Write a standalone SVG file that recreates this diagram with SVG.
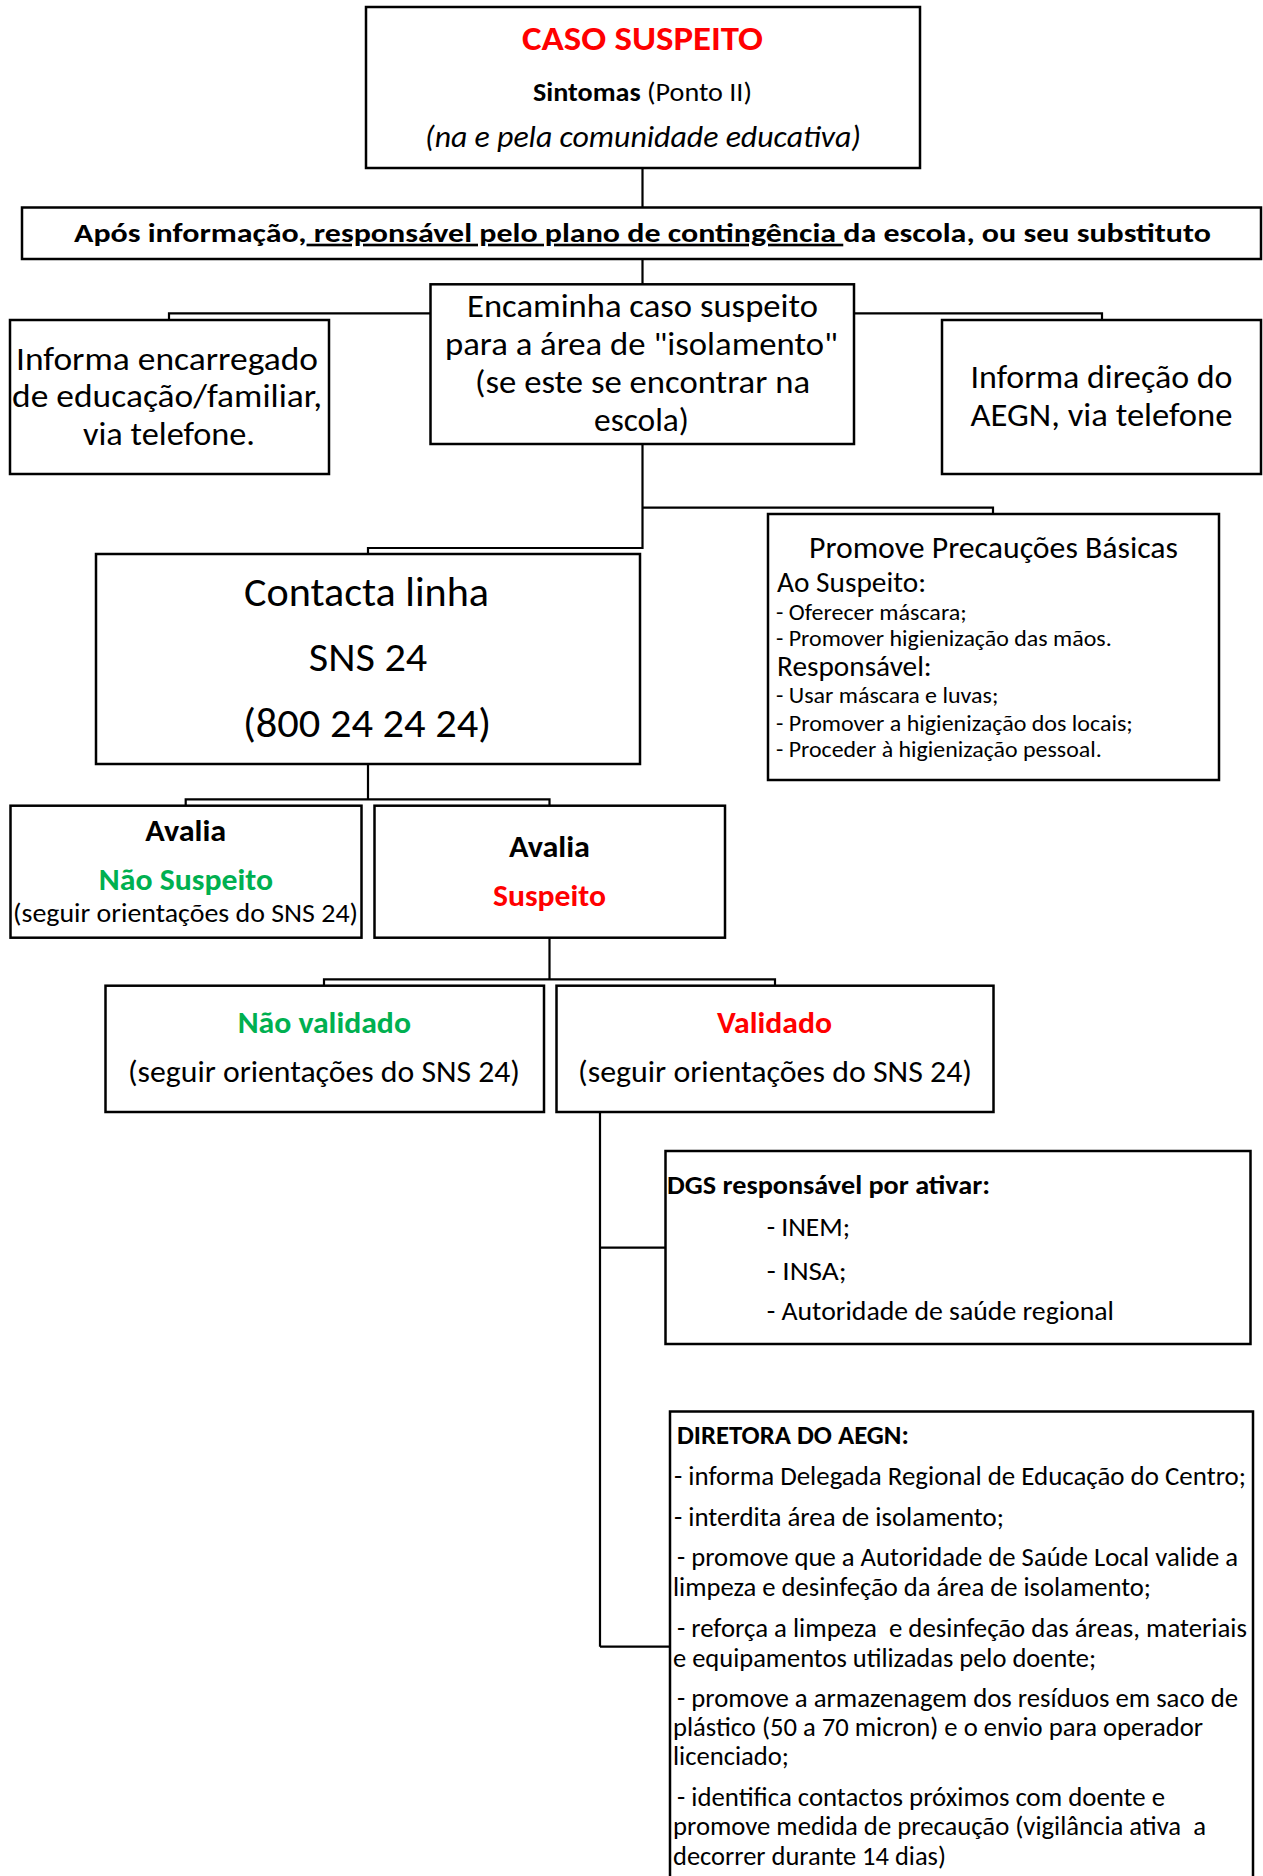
<svg xmlns="http://www.w3.org/2000/svg" width="1263" height="1876" viewBox="0 0 1263 1876">
<style>
.box{fill:#fff;stroke:#000;stroke-width:2.5}
.con{fill:none;stroke:#000;stroke-width:2.2}
text{font-family:Carlito,Lato,"Liberation Sans",sans-serif;fill:#000}
.b{font-weight:bold}
.c{text-anchor:middle}
.red{fill:#FF0000}
.grn{fill:#00B050}
</style>
<rect width="1263" height="1876" fill="#fff"/>
<g id="connectors">
<path class="con" d="M642.5,168V207.5M642.5,259V284.3"/>
<path class="con" d="M430.5,313.3H169V320"/>
<path class="con" d="M854,313.3H1102V320"/>
<path class="con" d="M642.5,444V548H368V554"/>
<path class="con" d="M642.5,507.7H993V514"/>
<path class="con" d="M368,764V799.3M185.7,805.7V799.3H549.5V805.7"/>
<path class="con" d="M549.5,937.7V979.3M324,985.7V979.3H775V985.7"/>
<path class="con" d="M600,1112V1646.7M600,1247.7H665.5M600,1646.7H670"/>
</g>
<g id="caso-suspeito">
<rect class="box" x="366" y="7" width="554" height="161"/>
<text class="b c red" x="642.5" y="50" font-size="35" textLength="241" lengthAdjust="spacingAndGlyphs">CASO SUSPEITO</text>
<text class="c" x="642.5" y="100.7" font-size="26.5" textLength="219" lengthAdjust="spacingAndGlyphs"><tspan font-weight="bold">Sintomas</tspan> (Ponto II)</text>
<text class="c" x="643" y="146.7" font-size="30" font-style="italic" textLength="436" lengthAdjust="spacingAndGlyphs">(na e pela comunidade educativa)</text>
</g>
<g id="apos-informacao">
<rect class="box" x="22" y="207.5" width="1239" height="51.5"/>
<text class="b c" x="642.5" y="241.7" font-size="26.5" textLength="1137" lengthAdjust="spacingAndGlyphs">Após informação,<tspan text-decoration="underline"> responsável pelo plano de contingência </tspan>da escola, ou seu substituto</text>
</g>
<g id="encaminha">
<rect class="box" x="430.5" y="284.3" width="423.5" height="159.7"/>
<text class="c" x="642.5" y="317" font-size="33" textLength="351" lengthAdjust="spacingAndGlyphs">Encaminha caso suspeito</text>
<text class="c" x="641.5" y="355" font-size="33" textLength="393" lengthAdjust="spacingAndGlyphs">para a área de "isolamento"</text>
<text class="c" x="642.5" y="393" font-size="33" textLength="335" lengthAdjust="spacingAndGlyphs">(se este se encontrar na</text>
<text class="c" x="641.5" y="431" font-size="33" textLength="95" lengthAdjust="spacingAndGlyphs">escola)</text>
</g>
<g id="informa-encarregado">
<rect class="box" x="10" y="320" width="319" height="154"/>
<text class="c" x="167" y="369.5" font-size="33" textLength="302" lengthAdjust="spacingAndGlyphs">Informa encarregado</text>
<text class="c" x="167" y="406.5" font-size="33" textLength="310" lengthAdjust="spacingAndGlyphs">de educação/familiar,</text>
<text class="c" x="169" y="444.5" font-size="33" textLength="172" lengthAdjust="spacingAndGlyphs">via telefone.</text>
</g>
<g id="informa-direcao">
<rect class="box" x="942" y="320" width="319" height="154"/>
<text class="c" x="1101.5" y="388" font-size="33" textLength="262" lengthAdjust="spacingAndGlyphs">Informa direção do</text>
<text class="c" x="1101.5" y="426" font-size="33" textLength="262" lengthAdjust="spacingAndGlyphs">AEGN, via telefone</text>
</g>
<g id="contacta">
<rect class="box" x="96" y="554" width="544" height="210"/>
<text class="c" x="366.5" y="606" font-size="40.5" textLength="245" lengthAdjust="spacingAndGlyphs">Contacta linha</text>
<text class="c" x="368" y="671" font-size="40.5" textLength="118.5" lengthAdjust="spacingAndGlyphs">SNS 24</text>
<text class="c" x="367" y="737" font-size="40.5" textLength="248" lengthAdjust="spacingAndGlyphs">(800 24 24 24)</text>
</g>
<g id="precaucoes">
<rect class="box" x="768" y="514" width="451" height="266"/>
<text class="c" x="993.5" y="558.3" font-size="30" textLength="369" lengthAdjust="spacingAndGlyphs">Promove Precauções Básicas</text>
<text x="777" y="592.3" font-size="28" textLength="149" lengthAdjust="spacingAndGlyphs">Ao Suspeito:</text>
<text x="776" y="619.5" font-size="23" textLength="190.7" lengthAdjust="spacingAndGlyphs">- Oferecer máscara;</text>
<text x="776" y="645.5" font-size="23" textLength="335.7" lengthAdjust="spacingAndGlyphs">- Promover higienização das mãos.</text>
<text x="777" y="676.2" font-size="28" textLength="154.7" lengthAdjust="spacingAndGlyphs">Responsável:</text>
<text x="776" y="703" font-size="23" textLength="222.3" lengthAdjust="spacingAndGlyphs">- Usar máscara e luvas;</text>
<text x="776" y="730.5" font-size="23" textLength="356.7" lengthAdjust="spacingAndGlyphs">- Promover a higienização dos locais;</text>
<text x="776" y="756.6" font-size="23" textLength="325.7" lengthAdjust="spacingAndGlyphs">- Proceder à higienização pessoal.</text>
</g>
<g id="avalia-nao-suspeito">
<rect class="box" x="10.5" y="805.7" width="351" height="132"/>
<text class="b c" x="185.7" y="840.7" font-size="30" textLength="81" lengthAdjust="spacingAndGlyphs">Avalia</text>
<text class="b c grn" x="186" y="889.8" font-size="30" textLength="174.3" lengthAdjust="spacingAndGlyphs">Não Suspeito</text>
<text class="c" x="185.5" y="921.7" font-size="26.5" textLength="345" lengthAdjust="spacingAndGlyphs">(seguir orientações do SNS 24)</text>
</g>
<g id="avalia-suspeito">
<rect class="box" x="374.5" y="805.7" width="350.5" height="132"/>
<text class="b c" x="549.5" y="856.5" font-size="30" textLength="81" lengthAdjust="spacingAndGlyphs">Avalia</text>
<text class="b c red" x="549.5" y="906" font-size="30" textLength="113" lengthAdjust="spacingAndGlyphs">Suspeito</text>
</g>
<g id="nao-validado">
<rect class="box" x="105.5" y="985.7" width="438.5" height="126.3"/>
<text class="b c grn" x="324.3" y="1033" font-size="30" textLength="173.3" lengthAdjust="spacingAndGlyphs">Não validado</text>
<text class="c" x="324" y="1082.4" font-size="30" textLength="392" lengthAdjust="spacingAndGlyphs">(seguir orientações do SNS 24)</text>
</g>
<g id="validado">
<rect class="box" x="556.5" y="985.7" width="437" height="126.3"/>
<text class="b c red" x="774.5" y="1033" font-size="30" textLength="115" lengthAdjust="spacingAndGlyphs">Validado</text>
<text class="c" x="775" y="1082.4" font-size="30" textLength="394" lengthAdjust="spacingAndGlyphs">(seguir orientações do SNS 24)</text>
</g>
<g id="dgs">
<rect class="box" x="665.5" y="1151" width="585" height="193"/>
<text class="b" x="667" y="1193.5" font-size="26.5" textLength="323" lengthAdjust="spacingAndGlyphs">DGS responsável por ativar:</text>
<text x="766.7" y="1235.5" font-size="26.5" textLength="83.3" lengthAdjust="spacingAndGlyphs">- INEM;</text>
<text x="766.7" y="1279.5" font-size="26.5" textLength="80" lengthAdjust="spacingAndGlyphs">- INSA;</text>
<text x="766.7" y="1320" font-size="26.5" textLength="347.3" lengthAdjust="spacingAndGlyphs">- Autoridade de saúde regional</text>
</g>
<g id="diretora">
<rect class="box" x="670" y="1411.5" width="583" height="480"/>
<text class="b" x="677" y="1444.3" font-size="26" textLength="231.8" lengthAdjust="spacingAndGlyphs">DIRETORA DO AEGN:</text>
<text x="674" y="1484.6" font-size="26" textLength="572" lengthAdjust="spacingAndGlyphs">- informa Delegada Regional de Educação do Centro;</text>
<text x="674" y="1525.5" font-size="26" textLength="330" lengthAdjust="spacingAndGlyphs">- interdita área de isolamento;</text>
<text x="677" y="1565.5" font-size="26" textLength="561" lengthAdjust="spacingAndGlyphs">- promove que a Autoridade de Saúde Local valide a</text>
<text x="673" y="1595.5" font-size="26" textLength="478" lengthAdjust="spacingAndGlyphs">limpeza e desinfeção da área de isolamento;</text>
<text x="677" y="1636.5" font-size="26" textLength="570" lengthAdjust="spacingAndGlyphs" xml:space="preserve">- reforça a limpeza  e desinfeção das áreas, materiais</text>
<text x="673" y="1666.5" font-size="26" textLength="423" lengthAdjust="spacingAndGlyphs">e equipamentos utilizadas pelo doente;</text>
<text x="677" y="1706.5" font-size="26" textLength="561" lengthAdjust="spacingAndGlyphs">- promove a armazenagem dos resíduos em saco de</text>
<text x="673" y="1735.8" font-size="26" textLength="530" lengthAdjust="spacingAndGlyphs">plástico (50 a 70 micron) e o envio para operador</text>
<text x="673" y="1764.5" font-size="26" textLength="116" lengthAdjust="spacingAndGlyphs">licenciado;</text>
<text x="677" y="1805.5" font-size="26" textLength="488" lengthAdjust="spacingAndGlyphs">- identifica contactos próximos com doente e</text>
<text x="673" y="1835" font-size="26" textLength="533" lengthAdjust="spacingAndGlyphs" xml:space="preserve">promove medida de precaução (vigilância ativa  a</text>
<text x="673" y="1864.5" font-size="26" textLength="273" lengthAdjust="spacingAndGlyphs">decorrer durante 14 dias)</text>
</g>
</svg>
